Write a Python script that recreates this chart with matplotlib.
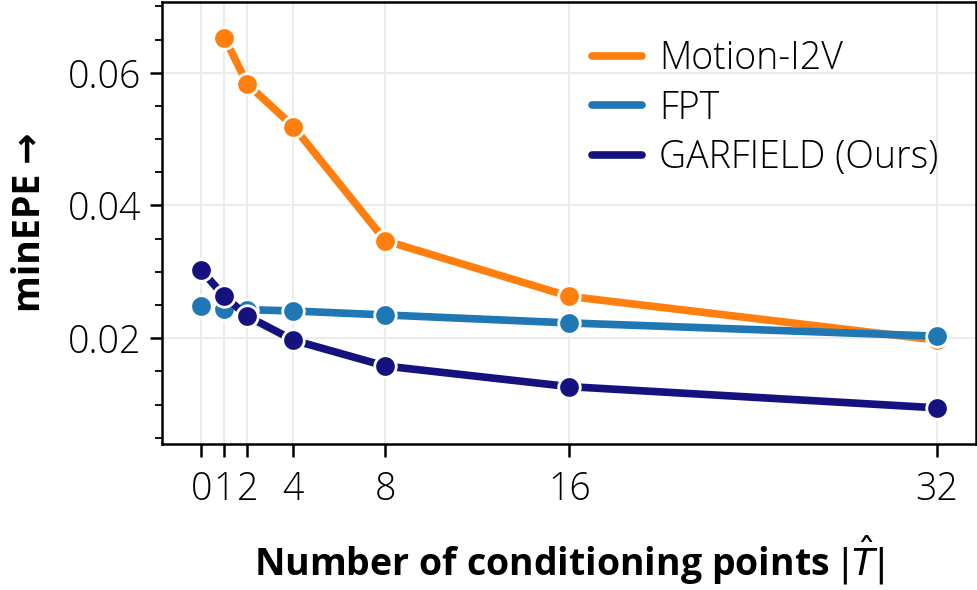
import matplotlib.pyplot as plt
from matplotlib.ticker import MultipleLocator

# conditioning points
x_points = [0, 1, 2, 4, 8, 16, 32]

# minEPE per method
motion_x = [1, 2, 4, 8, 16, 32]
motion_epe = [0.0653, 0.0583, 0.0519, 0.0347, 0.0263, 0.0197]
fpt_epe = [0.0248, 0.0244, 0.0243, 0.0241, 0.0235, 0.0223, 0.0203]
garfield_epe = [0.0302, 0.0263, 0.0233, 0.0197, 0.0158, 0.0127, 0.0095]

labels = ["Motion-I2V", "FPT", "GARFIELD (Ours)"]
colors = ["#ff7f0e", "#1f77b4", "#15127f"]

plt.rcParams["font.family"] = ["Open Sans", "DejaVu Sans"]

fig = plt.figure(figsize=(9.78, 5.9), dpi=100)
ax = fig.add_axes([0.166, 0.248, 0.832, 0.749])

series = [(motion_x, motion_epe), (x_points, fpt_epe), (x_points, garfield_epe)]
for (xs, ys), lab, c in zip(series, labels, colors):
    ax.plot(xs, ys, color=c, lw=5.5, solid_capstyle="round", label=lab,
            marker="o", markersize=15.5, markeredgecolor="white", markeredgewidth=2)

ax.set_xlim(-1.7, 33.7)
ax.set_ylim(0.0041, 0.0707)
ax.set_xticks(x_points)
ax.set_yticks([0.02, 0.04, 0.06])
ax.set_yticklabels(["0.02", "0.04", "0.06"])
ax.yaxis.set_minor_locator(MultipleLocator(0.005))

ax.grid(True, color="#ebebeb", lw=1.5, zorder=0)
ax.set_axisbelow(True)
for s in ax.spines.values():
    s.set_linewidth(1.8)
    s.set_color("black")

ax.tick_params(axis="both", which="major", length=9, width=1.8, labelsize=27, pad=6)
ax.tick_params(axis="x", which="major", pad=10)
ax.tick_params(axis="y", which="minor", length=5, width=1.3)
for t in ax.get_xticklabels() + ax.get_yticklabels():
    t.set_fontweight(300)

ax.set_xlabel(r"Number of conditioning points $|\hat{T}|$", fontsize=27,
              fontweight="bold", labelpad=18)
ax.set_ylabel("minEPE →", fontsize=27, fontweight="bold", labelpad=14)

leg = ax.legend(loc="upper right", frameon=False, fontsize=27, handlelength=1.35,
                handletextpad=0.45, labelspacing=0.3, borderaxespad=0.6)
for h in leg.get_lines():
    h.set_marker("")
for t in leg.get_texts():
    t.set_fontweight(300)

fig.savefig("out.png", dpi=100)
